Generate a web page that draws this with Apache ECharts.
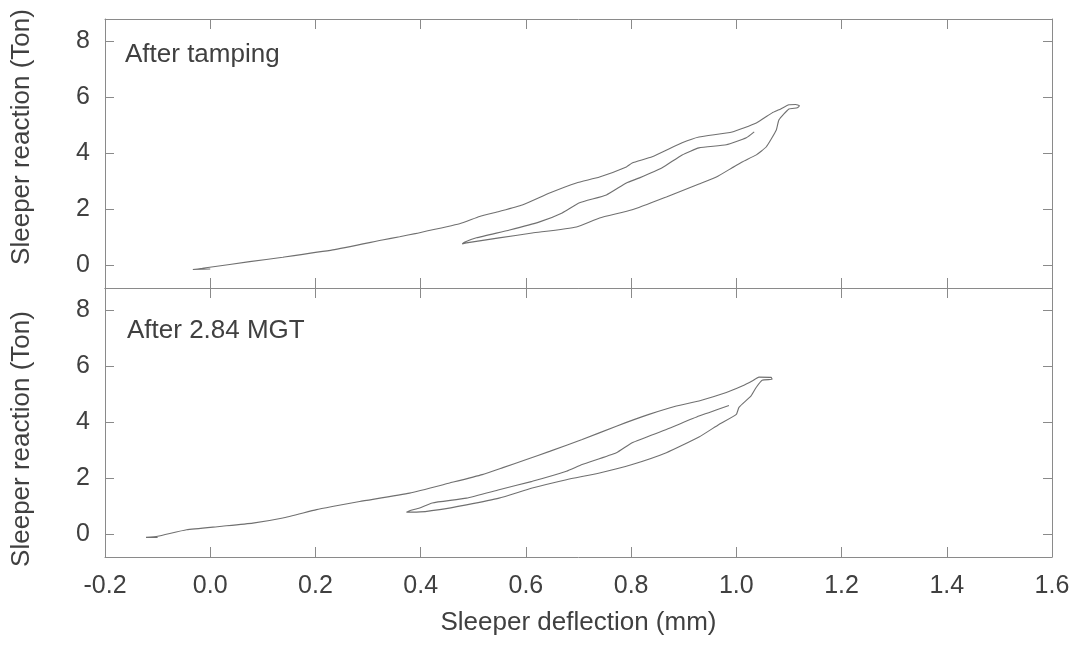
<!DOCTYPE html>
<html>
<head>
<meta charset="utf-8">
<script src="https://cdn.jsdelivr.net/npm/echarts@6/dist/echarts.min.js"></script>
<style>
html,body{margin:0;padding:0;background:#fff;}
#chart{width:1077px;height:649px;}
</style>
</head>
<body>
<div id="chart"></div>
<script>
// ---- Data ----
const xTicks = [-0.2, 0.0, 0.2, 0.4, 0.6, 0.8, 1.0, 1.2, 1.4, 1.6];
const yTicks = [0, 2, 4, 6, 8];
const panelLabels = ["After tamping", "After 2.84 MGT"];
const xAxisName = "Sleeper deflection (mm)";
const yAxisName = "Sleeper reaction (Ton)";

// Top panel: After tamping  [deflection mm, reaction Ton]
const tampingLoading = [
  [0.0,-0.12],[-0.033,-0.14],[-0.015,-0.1],[-0.001,-0.06],[0.075,0.14],[0.138,0.30],
  [0.233,0.56],[0.327,0.91],[0.36,1.03],[0.392,1.15],[0.474,1.49],[0.512,1.75],
  [0.549,1.93],[0.593,2.16],[0.645,2.59],[0.696,2.95],[0.74,3.16],[0.791,3.52],
  [0.802,3.66],[0.84,3.88],[0.897,4.38],[0.929,4.59],[0.992,4.77],[1.038,5.09],
  [1.068,5.45],[1.081,5.56],[1.1,5.74],[1.113,5.75],[1.12,5.7]
];
const tampingUnloading = [
  [1.116,5.63],[1.1,5.59],[1.081,5.2],[1.076,4.84],[1.057,4.24],[1.038,3.95],
  [1.011,3.7],[0.992,3.49],[0.962,3.16],[0.929,2.91],[0.867,2.45],[0.802,1.99],
  [0.74,1.7],[0.696,1.38],[0.612,1.16],[0.549,0.99],[0.487,0.81],[0.479,0.77]
];
const tampingReloading = [
  [0.483,0.83],[0.506,0.99],[0.569,1.27],[0.626,1.56],[0.669,1.88],[0.702,2.24],
  [0.753,2.52],[0.791,2.95],[0.816,3.13],[0.859,3.49],[0.897,3.95],[0.929,4.2],
  [0.981,4.31],[1.019,4.56],[1.034,4.77]
];

// Bottom panel: After 2.84 MGT
const mgtLoading = [
  [-0.1,-0.1],[-0.122,-0.1],[-0.1,-0.06],[-0.045,0.17],[0.018,0.29],[0.081,0.41],
  [0.138,0.59],[0.202,0.89],[0.232,1.0],[0.284,1.18],[0.379,1.48],[0.455,1.84],
  [0.517,2.14],[0.555,2.38],[0.601,2.68],[0.645,2.97],[0.707,3.39],[0.772,3.87],
  [0.834,4.29],[0.886,4.59],[0.929,4.77],[0.981,5.07],[1.011,5.3],[1.03,5.48],
  [1.043,5.62],[1.066,5.61],[1.068,5.54]
];
const mgtUnloading = [
  [1.049,5.51],[1.038,5.26],[1.028,4.95],[1.005,4.54],[1.0,4.29],[0.967,3.93],
  [0.929,3.48],[0.867,2.92],[0.802,2.5],[0.74,2.2],[0.677,1.96],[0.612,1.66],
  [0.549,1.3],[0.487,1.06],[0.436,0.89],[0.392,0.8],[0.373,0.8]
];
const mgtReloading = [
  [0.379,0.85],[0.398,0.95],[0.422,1.13],[0.487,1.3],[0.549,1.6],[0.612,1.9],
  [0.677,2.26],[0.707,2.5],[0.772,2.92],[0.802,3.28],[0.867,3.75],[0.929,4.23],
  [0.986,4.61]
];

// ---- Styling ----
const FONT = "'Liberation Sans', Arial, sans-serif";
const TEXT = '#404040';
const AXIS = '#8a8a8a';
const CURVE = '#707070';

function xAx(grid, pos, labels) {
  return {
    type: 'value', gridIndex: grid, position: pos, min: -0.2, max: 1.6,
    splitLine: {show: false},
    axisLine: {show: true, onZero: false, lineStyle: {color: AXIS, width: 1}},
    axisTick: {show: true, inside: true, length: 10, customValues: xTicks, lineStyle: {color: AXIS}},
    axisLabel: {show: labels, customValues: xTicks, margin: 17, fontSize: 25, color: TEXT,
      fontFamily: FONT, formatter: v => Number(v).toFixed(1)},
    name: labels ? xAxisName : '', nameLocation: 'middle', nameGap: 53,
    nameTextStyle: {fontSize: 26, color: TEXT, fontFamily: FONT}
  };
}
function yAx(grid, pos, labels) {
  return {
    type: 'value', gridIndex: grid, position: pos, min: -0.8, max: 8.8,
    splitLine: {show: false},
    axisLine: {show: true, onZero: false, lineStyle: {color: AXIS, width: 1}},
    axisTick: {show: true, inside: true, length: 9, customValues: yTicks, lineStyle: {color: AXIS}},
    axisLabel: {show: labels, customValues: yTicks, margin: 15, fontSize: 25, color: TEXT,
      fontFamily: FONT, formatter: v => String(v)}
  };
}
function curve(xi, yi, data) {
  return {
    type: 'line', xAxisIndex: xi, yAxisIndex: yi, data: data,
    showSymbol: false, symbol: 'none', smooth: 0.15,
    lineStyle: {color: CURVE, width: 1.1}
  };
}

const chart = echarts.init(document.getElementById('chart'), null, {renderer: 'canvas'});
chart.setOption({
  animation: false,
  backgroundColor: '#ffffff',
  grid: [
    {left: 105, right: 25, top: 19, height: 269},
    {left: 105, right: 25, top: 288, height: 269}
  ],
  xAxis: [xAx(0, 'bottom', false), xAx(0, 'top', false), xAx(1, 'bottom', true), xAx(1, 'top', false)],
  yAxis: [yAx(0, 'left', true), yAx(0, 'right', false), yAx(1, 'left', true), yAx(1, 'right', false)],
  series: [
    curve(0, 0, tampingLoading.concat(tampingUnloading, tampingReloading)),
    curve(2, 2, mgtLoading.concat(mgtUnloading, mgtReloading))
  ],
  graphic: [
    {type: 'text', left: 125, top: 42, style: {text: panelLabels[0], fontSize: 26, fill: TEXT, fontFamily: FONT}},
    {type: 'text', left: 127, top: 318, style: {text: panelLabels[1], fontSize: 26, fill: TEXT, fontFamily: FONT}},
    {type: 'text', x: 22, y: 137, rotation: Math.PI / 2,
      style: {text: yAxisName, fontSize: 26, fill: TEXT, fontFamily: FONT, align: 'center', verticalAlign: 'middle'}},
    {type: 'text', x: 22, y: 439, rotation: Math.PI / 2,
      style: {text: yAxisName, fontSize: 26, fill: TEXT, fontFamily: FONT, align: 'center', verticalAlign: 'middle'}}
  ]
});
</script>
</body>
</html>
